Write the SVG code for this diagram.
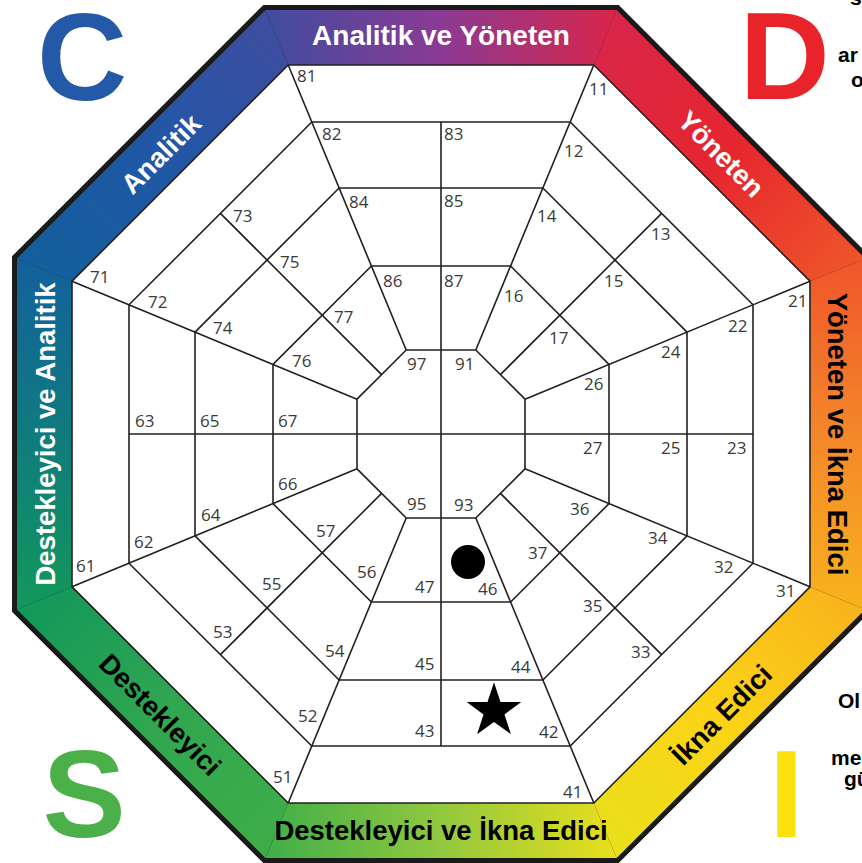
<svg xmlns="http://www.w3.org/2000/svg" width="862" height="863" viewBox="0 0 862 863">
<style>
.grid{fill:none;stroke:#231f20;stroke-width:1.6;stroke-linejoin:miter}
.num{font-family:"Open Sans","Liberation Sans",sans-serif;font-size:17px;fill:#3a3a3a}
.band{font-family:"Liberation Sans",Arial,sans-serif;font-weight:bold;font-size:27.5px;text-anchor:middle}
.w{fill:#ffffff}
.k{fill:#000000}
.big{font-family:"Liberation Sans",Arial,sans-serif;font-weight:bold;font-size:125px}
.side{font-family:"Liberation Sans",Arial,sans-serif;font-weight:bold;font-size:21px;fill:#000}
</style>
<defs>
<linearGradient id="gT" gradientUnits="userSpaceOnUse" x1="265" y1="10" x2="617" y2="10"><stop offset="0" stop-color="#3f4d9f"/><stop offset="0.5" stop-color="#8b3a94"/><stop offset="1" stop-color="#d8254a"/></linearGradient>
<linearGradient id="gTR" gradientUnits="userSpaceOnUse" x1="617" y1="10" x2="865" y2="258"><stop offset="0" stop-color="#d8254a"/><stop offset="0.5" stop-color="#e6252f"/><stop offset="1" stop-color="#ef552a"/></linearGradient>
<linearGradient id="gR" gradientUnits="userSpaceOnUse" x1="865" y1="258" x2="865" y2="610"><stop offset="0" stop-color="#ef552a"/><stop offset="0.5" stop-color="#f4872a"/><stop offset="1" stop-color="#f8b31c"/></linearGradient>
<linearGradient id="gBR" gradientUnits="userSpaceOnUse" x1="865" y1="610" x2="617" y2="858"><stop offset="0" stop-color="#f8b31c"/><stop offset="0.5" stop-color="#fbd317"/><stop offset="1" stop-color="#eadf1c"/></linearGradient>
<linearGradient id="gB" gradientUnits="userSpaceOnUse" x1="617" y1="858" x2="265" y2="858"><stop offset="0" stop-color="#eadf1c"/><stop offset="0.5" stop-color="#92c83e"/><stop offset="1" stop-color="#3fae49"/></linearGradient>
<linearGradient id="gBL" gradientUnits="userSpaceOnUse" x1="265" y1="858" x2="17" y2="610"><stop offset="0" stop-color="#3fae49"/><stop offset="0.5" stop-color="#30a650"/><stop offset="1" stop-color="#12985a"/></linearGradient>
<linearGradient id="gL" gradientUnits="userSpaceOnUse" x1="17" y1="610" x2="17" y2="258"><stop offset="0" stop-color="#12985a"/><stop offset="0.5" stop-color="#107b7e"/><stop offset="1" stop-color="#13609c"/></linearGradient>
<linearGradient id="gTL" gradientUnits="userSpaceOnUse" x1="17" y1="258" x2="265" y2="10"><stop offset="0" stop-color="#13609c"/><stop offset="0.5" stop-color="#2157a6"/><stop offset="1" stop-color="#3f4d9f"/></linearGradient>
</defs>
<rect x="0" y="0" width="862" height="863" fill="#ffffff"/>

<g id="frame">
<polygon points="263.3,5 618.7,5 870,256.3 870,611.7 618.7,863 263.3,863 12,611.7 12,256.3" fill="#1a1a1a"/>
<polygon points="265.4,10 616.6,10 593.8,65 288.2,65" fill="url(#gT)"/>
<polygon points="616.6,10 865,258.4 810,281.2 593.8,65" fill="url(#gTR)"/>
<polygon points="865,258.4 865,609.6 810,586.8 810,281.2" fill="url(#gR)"/>
<polygon points="865,609.6 616.6,858 593.8,803 810,586.8" fill="url(#gBR)"/>
<polygon points="616.6,858 265.4,858 288.2,803 593.8,803" fill="url(#gB)"/>
<polygon points="265.4,858 17,609.6 72,586.8 288.2,803" fill="url(#gBL)"/>
<polygon points="17,609.6 17,258.4 72,281.2 72,586.8" fill="url(#gL)"/>
<polygon points="17,258.4 265.4,10 288.2,65 72,281.2" fill="url(#gTL)"/>
<polygon points="288.2,65 593.8,65 810,281.2 810,586.8 593.8,803 288.2,803 72,586.8 72,281.2" fill="#ffffff" stroke="#231f20" stroke-width="1.6"/>
</g>

<g id="band-labels">
<text class="band w" x="441" y="45" style="font-size:28px">Analitik ve Yöneten</text>
<text class="band w" transform="translate(160.6,153.6) rotate(-45)" x="0" y="10">Analitik</text>
<text class="band w" transform="translate(721.4,153.6) rotate(45)" x="0" y="10">Yöneten</text>
<text class="band k" transform="translate(837.5,434) rotate(90)" x="0" y="10">Yöneten ve İkna Edici</text>
<text class="band k" transform="translate(721.4,714.4) rotate(-45)" x="0" y="10">İkna Edici</text>
<text class="band k" x="441" y="840">Destekleyici ve İkna Edici</text>
<text class="band k" transform="translate(160.6,714.4) rotate(45)" x="0" y="10">Destekleyici</text>
<text class="band w" transform="translate(44.5,434) rotate(-90)" x="0" y="10">Destekleyici ve Analitik</text>
</g>

<g id="connectors">
<polygon class="grid" points="311.8,122 570.2,122 753,304.8 753,563.2 570.2,746 311.8,746 129,563.2 129,304.8"/>
<polygon class="grid" points="339.1,188 542.9,188 687,332.1 687,535.9 542.9,680 339.1,680 195,535.9 195,332.1"/>
<polygon class="grid" points="371.4,266 510.6,266 609,364.4 609,503.6 510.6,602 371.4,602 273,503.6 273,364.4"/>
<polygon class="grid" points="406.2,350 475.8,350 525,399.2 525,468.8 475.8,518 406.2,518 357,468.8 357,399.2"/>
<line class="grid" x1="406.2" y1="350" x2="288.2" y2="65"/>
<line class="grid" x1="475.8" y1="350" x2="593.8" y2="65"/>
<line class="grid" x1="525" y1="399.2" x2="810" y2="281.2"/>
<line class="grid" x1="525" y1="468.8" x2="810" y2="586.8"/>
<line class="grid" x1="475.8" y1="518" x2="593.8" y2="803"/>
<line class="grid" x1="406.2" y1="518" x2="288.2" y2="803"/>
<line class="grid" x1="357" y1="468.8" x2="72" y2="586.8"/>
<line class="grid" x1="357" y1="399.2" x2="72" y2="281.2"/>
<line class="grid" x1="129" y1="434" x2="753" y2="434"/>
<line class="grid" x1="441" y1="122" x2="441" y2="746"/>
<line class="grid" x1="381.6" y1="374.6" x2="220.4" y2="213.4"/>
<line class="grid" x1="500.4" y1="374.6" x2="661.6" y2="213.4"/>
<line class="grid" x1="500.4" y1="493.4" x2="661.6" y2="654.6"/>
<line class="grid" x1="381.6" y1="493.4" x2="220.4" y2="654.6"/>
</g>

<g id="cell-numbers" class="num">
<text x="297" y="82">81</text><text x="322" y="140">82</text><text x="444" y="140">83</text><text x="349" y="208">84</text><text x="444" y="207">85</text><text x="383" y="287">86</text><text x="444" y="287">87</text>
<text x="589" y="95">11</text><text x="564" y="157">12</text><text x="651" y="240">13</text><text x="537" y="222">14</text><text x="604" y="287">15</text><text x="504" y="302">16</text><text x="549" y="344">17</text>
<text x="788" y="307">21</text><text x="728" y="332">22</text><text x="727" y="454">23</text><text x="661" y="358">24</text><text x="661" y="454">25</text><text x="584" y="390">26</text><text x="583" y="454">27</text>
<text x="776" y="597">31</text><text x="714" y="573">32</text><text x="631" y="658">33</text><text x="648" y="544">34</text><text x="583" y="612">35</text><text x="570" y="515">36</text><text x="528" y="559">37</text>
<text x="563" y="798">41</text><text x="539" y="738">42</text><text x="415" y="737">43</text><text x="511" y="673">44</text><text x="415" y="670">45</text><text x="478" y="595">46</text><text x="415" y="593">47</text>
<text x="273" y="783">51</text><text x="298" y="722">52</text><text x="213" y="638">53</text><text x="325" y="657">54</text><text x="262" y="590">55</text><text x="357" y="578">56</text><text x="316" y="537">57</text>
<text x="76" y="572">61</text><text x="134" y="548">62</text><text x="135" y="427">63</text><text x="201" y="521">64</text><text x="200" y="427">65</text><text x="278" y="490">66</text><text x="278" y="427">67</text>
<text x="90" y="283">71</text><text x="148" y="308">72</text><text x="233" y="222">73</text><text x="213" y="334">74</text><text x="280" y="268">75</text><text x="292" y="367">76</text><text x="334" y="323">77</text>
<text x="407" y="370">97</text><text x="455" y="370">91</text><text x="454" y="511">93</text><text x="407" y="510">95</text>
</g>

<g id="markers">
<circle cx="468" cy="562" r="17" fill="#000"/>
<polygon points="494,682.3 500.5,702.1 521.3,702.1 504.5,714.4 510.9,734.2 494,722 477.1,734.2 483.5,714.4 466.7,702.1 487.5,702.1" fill="#000"/>
</g>

<g id="letters">
<text class="big" x="37" y="100" fill="#2359a6">C</text>
<text class="big" x="739.5" y="99" fill="#e8232a">D</text>
<text class="big" x="42.4" y="837" fill="#4cb04a">S</text>
<text class="big" x="769" y="837" fill="#fbe10e">I</text>
</g>

<g id="side-text">
<text class="side" x="850" y="5">s</text>
<text class="side"><tspan x="838" y="62">ar</tspan><tspan x="851" y="87">o</tspan></text>
<text class="side" x="838" y="708">Ol</text>
<text class="side"><tspan x="831" y="765">me</tspan><tspan x="844" y="786">gü</tspan></text>
</g>
</svg>
